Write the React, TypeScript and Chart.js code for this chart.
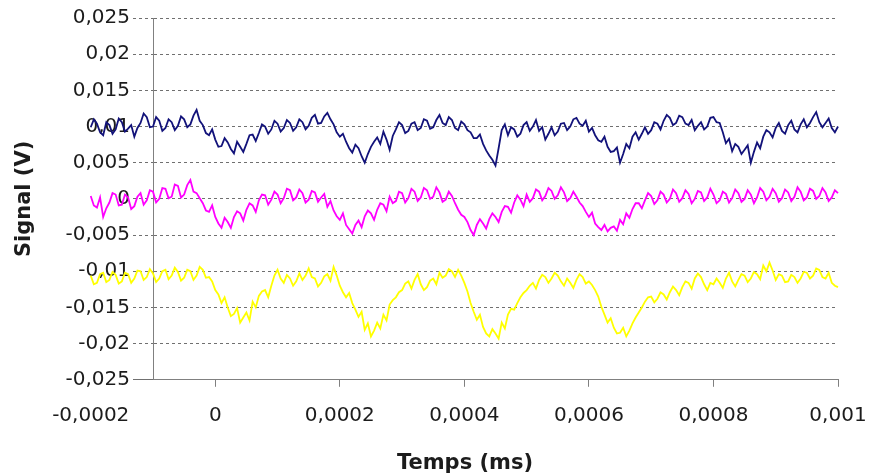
import { useEffect, useRef } from "react";
import { Chart, registerables } from "chart.js";

Chart.register(...registerables);

// Sampling of the three traces (time in s on the axis labelled "ms")
const tStart = -0.0002;
const tStep = 0.000005;

// Trace values in millivolts (one value per sample)
const navyMv = [
  9.9, 11.0, 10.4, 9.2, 8.8, 10.6, 10.2, 9.0, 9.6, 11.1, 10.6, 9.3, 9.7, 10.2, 8.6, 9.8, 10.5, 11.8, 11.3, 9.9,
  10.0, 11.3, 10.8, 9.4, 9.8, 11.0, 10.6, 9.5, 10.1, 11.4, 11.0, 9.9, 10.3, 11.5, 12.3, 10.8, 10.2, 9.1, 8.8, 9.6,
  8.2, 7.2, 7.3, 8.4, 7.8, 6.9, 6.3, 7.9, 7.2, 6.5, 7.6, 8.8, 8.9, 8.0, 9.1, 10.3, 10.0, 9.0, 9.6, 10.8,
  10.4, 9.3, 9.8, 10.9, 10.5, 9.4, 9.9, 11.0, 10.6, 9.6, 10.1, 11.2, 11.6, 10.4, 10.5, 11.4, 11.9, 11.0, 10.3, 9.2,
  8.6, 9.0, 7.9, 7.0, 6.4, 7.5, 7.0, 5.9, 5.0, 6.2, 7.2, 7.9, 8.5, 7.6, 9.3, 8.2, 6.8, 8.7, 9.6, 10.6,
  10.2, 9.1, 9.4, 10.4, 10.6, 9.5, 9.8, 11.0, 10.8, 9.7, 9.9, 10.9, 11.6, 10.5, 10.2, 11.3, 10.9, 9.8, 9.5, 10.7,
  10.3, 9.5, 9.2, 8.4, 8.4, 8.9, 7.6, 6.7, 6.0, 5.4, 4.6, 7.0, 9.5, 10.3, 8.8, 9.9, 9.6, 8.6, 9.0, 10.2,
  10.6, 9.4, 10.0, 10.9, 9.4, 9.9, 8.2, 9.0, 9.9, 8.8, 9.3, 10.4, 10.5, 9.5, 10.0, 11.0, 11.2, 10.4, 10.1, 10.8,
  9.3, 9.8, 8.8, 8.1, 7.9, 8.6, 7.2, 6.5, 6.6, 7.1, 5.0, 6.2, 7.6, 7.0, 8.6, 9.2, 8.2, 9.0, 9.9, 9.0,
  9.5, 10.6, 10.4, 9.6, 10.8, 11.6, 11.2, 10.2, 10.5, 11.5, 11.3, 10.4, 10.2, 10.9, 9.5, 10.1, 10.6, 9.6, 10.0, 11.2,
  11.3, 10.6, 10.5, 9.2, 7.7, 8.3, 6.6, 7.6, 7.2, 6.2, 6.8, 7.4, 5.0, 6.5, 7.8, 7.0, 8.6, 9.5, 9.2, 8.5,
  9.8, 10.5, 9.4, 9.0, 10.2, 10.8, 9.6, 9.2, 10.3, 11.0, 9.9, 10.5, 11.3, 12.0, 10.6, 9.9, 10.5, 11.1, 9.8, 9.2,
  10.0,
];

const magentaMv = [
  0.4, -0.9, -1.2, 0.2, -2.5, -1.3, -0.5, 0.8, 0.6, -0.9, -0.8, 0.6, 0.2, -1.4, -1.0, 0.3, 0.8, -0.8, -0.2, 1.2,
  1.0, -0.5, 0.0, 1.5, 1.4, 0.1, 0.3, 2.0, 1.8, 0.2, 0.6, 1.9, 2.6, 1.0, 0.8, 0.1, -0.6, -1.6, -1.8, -0.9,
  -2.5, -3.4, -4.0, -2.6, -3.2, -4.0, -2.5, -1.7, -2.0, -3.0, -1.5, -0.6, -0.9, -1.8, -0.2, 0.6, 0.5, -0.8, -0.1, 1.0,
  0.6, -0.6, 0.1, 1.4, 1.2, -0.2, 0.2, 1.3, 0.8, -0.5, -0.1, 1.1, 0.9, -0.4, 0.2, 0.7, -1.1, -0.3, -1.6, -2.4,
  -2.9, -2.0, -3.6, -4.2, -4.8, -3.6, -3.0, -3.9, -2.4, -1.6, -2.0, -2.9, -1.5, -0.6, -0.8, -1.7, 0.3, -0.6, -0.3, 1.0,
  0.8, -0.5, 0.1, 1.4, 1.0, -0.3, 0.2, 1.5, 1.2, 0.0, 0.3, 1.6, 0.9, -0.4, -0.1, 1.0, 0.4, -0.6, -1.5, -2.2,
  -2.5, -3.2, -4.3, -5.0, -3.6, -2.8, -3.4, -4.1, -2.8, -2.0, -2.5, -3.2, -1.8, -1.0, -1.1, -1.9, -0.5, 0.5, -0.1, -1.0,
  0.6, -0.4, 0.1, 1.3, 1.0, -0.2, 0.4, 1.5, 1.1, 0.0, 0.5, 1.6, 0.9, -0.3, 0.1, 1.0, 0.3, -0.5, -1.0, -1.8,
  -2.5, -1.9, -3.4, -3.9, -4.3, -3.6, -4.5, -4.0, -3.8, -4.4, -2.9, -3.5, -2.0, -2.6, -1.4, -0.6, -0.6, -1.3, -0.2, 0.8,
  0.4, -0.7, -0.2, 1.0, 0.6, -0.5, 0.0, 1.3, 0.8, -0.4, 0.1, 1.2, 0.7, -0.6, 0.0, 1.1, 0.9, -0.3, 0.2, 1.4,
  0.6, -0.6, -0.2, 1.0, 0.7, -0.5, 0.1, 1.3, 0.8, -0.4, 0.0, 1.2, 0.6, -0.6, 0.2, 1.5, 1.0, -0.2, 0.3, 1.4,
  0.8, -0.4, 0.1, 1.3, 0.9, -0.3, 0.3, 1.6, 1.0, -0.2, 0.2, 1.4, 1.1, 0.0, 0.4, 1.5, 0.9, -0.3, 0.2, 1.2,
  0.8,
];

const yellowMv = [
  -10.6, -11.8, -11.6, -10.4, -10.2, -11.5, -11.2, -10.1, -10.5, -11.7, -11.4, -10.2, -10.4, -11.6, -11.0, -9.9, -10.0, -11.2, -10.8, -9.7,
  -10.3, -11.5, -11.0, -10.0, -9.8, -11.1, -10.6, -9.5, -10.1, -11.3, -10.9, -9.8, -10.0, -11.2, -10.6, -9.4, -9.8, -10.9, -10.8, -11.4,
  -12.6, -13.2, -14.4, -13.6, -15.0, -16.2, -15.9, -15.1, -17.1, -16.4, -15.7, -16.8, -14.2, -15.0, -13.4, -12.8, -12.6, -13.6, -12.0, -10.6,
  -9.8, -11.0, -11.6, -10.5, -11.0, -12.0, -11.4, -10.3, -11.2, -10.6, -9.6, -10.8, -11.0, -12.1, -11.6, -10.7, -10.4, -11.3, -9.4, -10.6,
  -12.0, -12.9, -13.6, -13.0, -14.4, -15.3, -16.3, -15.6, -18.1, -17.2, -19.0, -18.2, -17.1, -17.9, -16.0, -16.8, -14.6, -14.0, -13.6, -12.9,
  -12.6, -11.7, -11.4, -12.4, -11.2, -10.4, -11.8, -12.6, -12.2, -11.3, -11.0, -11.8, -10.2, -10.9, -10.6, -9.7, -10.0, -10.8, -9.8, -10.6,
  -11.6, -12.8, -14.4, -15.6, -16.7, -16.0, -17.7, -18.6, -19.0, -18.0, -18.6, -19.3, -17.1, -17.9, -16.0, -15.2, -15.3, -14.4, -13.6, -13.0,
  -12.6, -12.0, -11.6, -12.4, -11.2, -10.5, -10.8, -11.6, -11.0, -10.2, -10.6, -11.4, -12.0, -11.0, -11.6, -12.3, -11.2, -10.4, -10.8, -11.7,
  -11.4, -11.9, -12.6, -13.5, -14.9, -16.0, -17.1, -16.5, -17.8, -18.6, -18.5, -17.8, -19.0, -18.2, -17.2, -16.4, -15.7, -15.0, -14.2, -13.6,
  -13.5, -14.3, -13.8, -12.9, -13.2, -13.9, -12.9, -12.1, -12.6, -13.3, -12.2, -11.4, -11.6, -12.4, -11.0, -10.3, -10.8, -11.8, -12.6, -11.6,
  -11.8, -11.0, -11.6, -12.3, -11.0, -10.2, -11.4, -12.1, -11.2, -10.4, -10.6, -11.5, -11.0, -10.1, -10.4, -11.1, -9.2, -10.0, -8.8, -9.9,
  -11.2, -10.4, -10.6, -11.5, -11.4, -10.5, -10.8, -11.6, -11.0, -10.1, -10.2, -11.0, -10.6, -9.6, -9.8, -10.8, -11.0, -10.2, -11.6, -12.0,
  -12.2,
];

const xTickValues = [-0.0002, 0, 0.0002, 0.0004, 0.0006, 0.0008, 0.001];
const yTickValues = [
  -0.025, -0.02, -0.015, -0.01, -0.005, 0, 0.005, 0.01, 0.015, 0.02, 0.025,
];
const xAxisMin = -0.0001; // vertical axis crosses here
const xAxisMax = 0.001;
const yAxisMin = -0.025;
const yAxisMax = 0.025;
const xAxisTitle = "Temps (ms)";
const yAxisTitle = "Signal (V)";

const FONT = "'DejaVu Sans', 'Liberation Sans', Arial, sans-serif";
const TEXT = "#1c1c1c";
const AXIS = "#808080";
const GRID = "#707070";

const fmt = (v: number, digits: number) => {
  const n = Number(v.toFixed(digits));
  return (n === 0 ? "0" : String(n)).replace(".", ",");
};

const toPoints = (mv: number[]) =>
  mv.map((v, i) => ({ x: tStart + i * tStep, y: v / 1000 }));

export default function App() {
  const ref = useRef<HTMLCanvasElement | null>(null);

  useEffect(() => {
    document.body.style.margin = "0";
    const canvas = ref.current;
    if (!canvas) return;
    const line = (data: number[], color: string) => ({
      data: toPoints(data),
      borderColor: color,
      backgroundColor: color,
      borderWidth: 1.8,
      pointRadius: 0,
      tension: 0,
      clip: false as const,
    });
    const chart = new Chart(canvas, {
      type: "line",
      data: {
        datasets: [
          { label: "1", ...line(navyMv, "#12127a") },
          { label: "2", ...line(magentaMv, "#ff00ff") },
          { label: "3", ...line(yellowMv, "#ffff00") },
        ],
      },
      options: {
        animation: false,
        responsive: false,
        events: [],
        layout: { padding: { left: 0, right: 0, top: 18, bottom: 0 } },
        plugins: {
          legend: { display: false },
          tooltip: { enabled: false },
          title: {
            display: true,
            position: "bottom",
            text: xAxisTitle,
            color: TEXT,
            font: { family: FONT, size: 21, weight: "bold" },
            padding: { top: 0, bottom: 0 },
          },
        },
        scales: {
          x: {
            type: "linear",
            bounds: "data",
            afterDataLimits: (s: any) => {
              s.min = xAxisMin;
              s.max = xAxisMax;
            },
            afterBuildTicks: (s: any) => {
              s.ticks = xTickValues.map((v) => ({ value: v }));
            },
            afterFit: (s: any) => {
              s.height = 71;
              s.paddingLeft = 0;
              s.paddingRight = 92;
            },
            grid: {
              drawOnChartArea: false,
              tickLength: 7,
              color: AXIS,
              tickColor: (c: any) =>
                c.tick && c.tick.value < xAxisMin ? "rgba(0,0,0,0)" : AXIS,
            },
            border: { color: AXIS, width: 1 },
            ticks: {
              autoSkip: false,
              maxRotation: 0,
              minRotation: 0,
              padding: 17,
              color: TEXT,
              font: { family: FONT, size: 20 },
              callback: (v: any) => fmt(Number(v), 5),
            },
          },
          y: {
            type: "linear",
            min: yAxisMin,
            max: yAxisMax,
            afterBuildTicks: (s: any) => {
              s.ticks = yTickValues.map((v) => ({ value: v }));
            },
            afterFit: (s: any) => {
              s.width = 153;
            },
            grid: {
              color: GRID,
              lineWidth: 1,
              tickLength: 20,
              tickColor: GRID,
              tickBorderDash: (c: any) =>
                c.tick && c.tick.value <= yAxisMin ? [] : [3, 3],
            },
            border: { color: AXIS, width: 1, dash: [3, 3] },
            ticks: {
              padding: 3,
              color: TEXT,
              font: { family: FONT, size: 20 },
              callback: (v: any) => fmt(Number(v), 4),
            },
            title: {
              display: true,
              text: yAxisTitle,
              color: TEXT,
              font: { family: FONT, size: 21, weight: "bold" },
              padding: { top: 12, bottom: 0 },
            },
          },
        },
      },
    } as any);
    return () => chart.destroy();
  }, []);

  return (
    <div
      style={{
        position: "fixed",
        left: 0,
        top: 0,
        width: 869,
        height: 476,
        overflow: "hidden",
        background: "#ffffff",
      }}
    >
      <canvas ref={ref} width={930} height={476} style={{ display: "block" }} />
    </div>
  );
}
